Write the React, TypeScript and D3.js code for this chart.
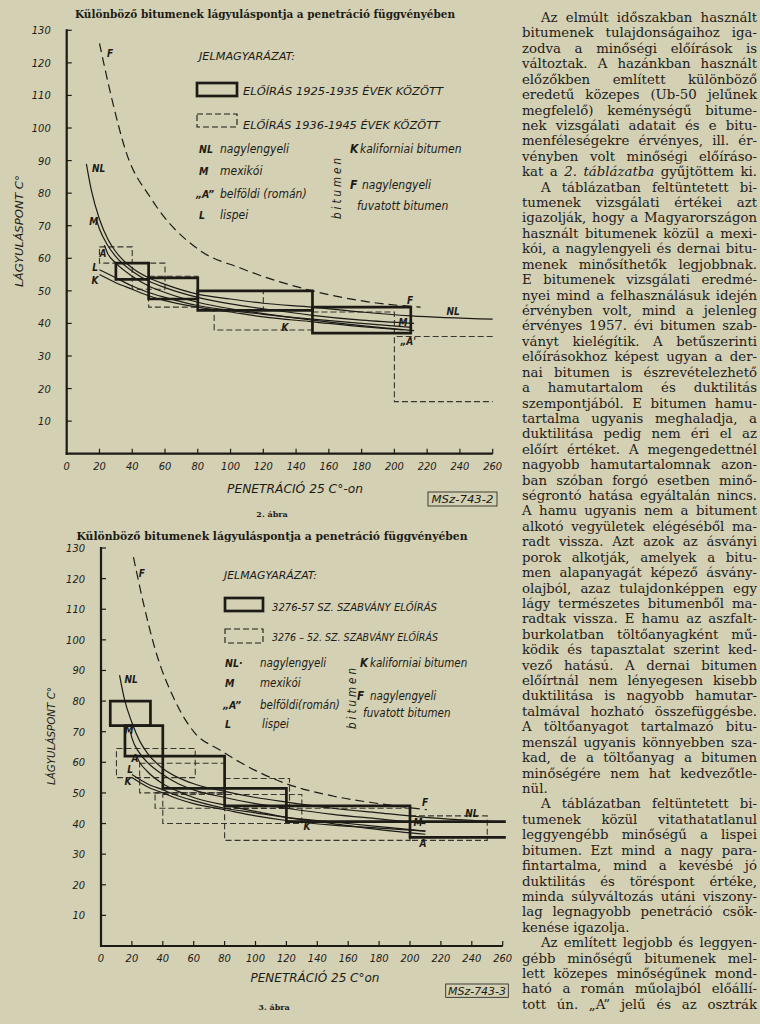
import React, { useMemo } from 'react';
import * as d3 from 'd3';

type P = [number, number];
type Box = [number, number, number, number, boolean?];
type Lab = [string, number, number];

const PEN_TICKS = [0, 20, 40, 60, 80, 100, 120, 140, 160, 180, 200, 220, 240, 260];
const SP_TICKS = [10, 20, 30, 40, 50, 60, 70, 80, 90, 100, 110, 120, 130];

// ---------- 2. ábra ----------
const F2_F: P[] = [[20, 126], [28, 108], [36, 93], [52, 78], [81, 62.5], [106, 57], [150, 50], [183, 46.7], [216, 45]];
const F2_NL: P[] = [[12, 89], [15, 81], [20, 72], [25, 66], [30, 62], [40, 57], [50, 54], [60, 52], [80, 49], [100, 47.5], [120, 46.2], [150, 45], [180, 43.5], [210, 42.3], [260, 41.3]];
const F2_M: P[] = [[18, 72], [20, 69], [25, 64], [30, 60.5], [40, 56], [50, 53], [60, 51], [80, 48], [100, 46], [120, 44.5], [150, 42.5], [180, 41], [212, 40]];
const F2_A: P[] = [[23, 64], [25, 61.5], [30, 58.5], [40, 54.5], [50, 51.5], [60, 49.5], [80, 46.5], [100, 44.5], [120, 43], [150, 41], [180, 39.3], [212, 37.8]];
const F2_L: P[] = [[20, 56.5], [30, 54], [40, 51.5], [50, 49.5], [60, 48], [80, 45.5], [100, 44], [120, 42.8], [150, 41.3], [180, 40], [210, 38.8]];
const F2_K: P[] = [[20, 55], [30, 52.5], [40, 50.5], [50, 48.5], [60, 47], [80, 45], [100, 43.5], [120, 42], [150, 40.5], [180, 39], [205, 38]];
const F2_SOLID_BOXES: Box[] = [[30, 50, 53.5, 58.5], [50, 80, 47.5, 54], [80, 150, 44, 50], [150, 210, 37, 45]];
const F2_DASHED_BOXES: Box[] = [[20, 40, 58.5, 63.5], [40, 60, 50.5, 58.5], [50, 80, 45, 54.5], [80, 120, 44, 50], [90, 150, 38, 44], [150, 200, 37, 43.5], [200, 260, 16, 36, true]];
const F2_LABELS: Lab[] = [['F', 26.4, 123], ['F', 209.5, 47.1], ['NL', 19.5, 87.7], ['NL', 235.8, 43.8], ['M', 16.5, 71.2], ['M', 205.3, 40.4], ['A', 22.2, 61.6], ['„A\'', 208.4, 34.3], ['L', 17.3, 57.3], ['K', 17.3, 53.3], ['K', 133.3, 38.9]];

// ---------- 3. ábra ----------
const F3_F: P[] = [[21, 127], [27, 113], [35, 97], [48, 80], [60, 70], [77, 64], [90, 60], [120, 53], [150, 49], [180, 46.5], [211, 44.5]];
const F3_NL: P[] = [[12, 88.5], [15, 81], [20, 73], [25, 67], [30, 63], [40, 58], [50, 55], [60, 53], [80, 50.5], [100, 48.5], [120, 47], [150, 45], [180, 43.5], [210, 42], [260, 40.5]];
const F3_M: P[] = [[19, 70], [20, 68], [25, 63], [30, 60], [40, 56], [50, 53], [60, 51], [80, 48.5], [100, 46.5], [120, 45], [150, 43], [180, 41.5], [210, 40]];
const F3_A: P[] = [[23, 62], [25, 60], [30, 57], [40, 53], [50, 50.5], [60, 48.5], [80, 46], [100, 44], [120, 42], [150, 40], [180, 38], [210, 36.5]];
const F3_L: P[] = [[20, 56], [30, 53], [40, 51], [50, 49], [60, 47.5], [80, 45], [100, 43.5], [120, 42], [150, 40.5], [180, 39], [210, 37.5]];
const F3_K: P[] = [[20, 55], [30, 52], [40, 50], [50, 48], [60, 46.5], [80, 44.5], [100, 42.5], [120, 41], [150, 39.5], [180, 38.5], [210, 37.5]];
const F3_SOLID_BOXES: Box[] = [[6, 32, 72, 80], [15.5, 40, 62, 72], [40, 80, 51.5, 62], [80, 120, 45.8, 51.5], [120, 200, 40.6, 45.8], [200, 262, 35.5, 40.6, true]];
const F3_DASHED_BOXES: Box[] = [[10, 61, 55, 64.5], [25, 80, 50, 59.7], [35, 80, 45, 50], [40, 130, 40, 49.5], [80, 122, 45, 54.7], [80, 200, 34.5, 45], [200, 250, 34.5, 42.5]];
const F3_LABELS: Lab[] = [['F', 26.5, 121.8], ['F', 209.7, 47], ['NL', 19.5, 86.9], ['NL', 240, 43.4], ['M', 18.1, 70.5], ['M', 205.2, 40.2], ['A', 22, 61.4], ['A', 208.4, 33.6], ['L', 18.8, 57.5], ['K', 17.5, 53.6], ['K', 133.3, 38.9]];

const TITLE = 'Különböző bitumenek lágyuláspontja a penetráció függvényében';

const TEXT_LINES = [
  '\tAz elmúlt időszakban használt',
  'bitumenek tulajdonságaihoz iga-',
  'zodva a minőségi előírások is',
  'változtak. A hazánkban használt',
  'előzőkben említett különböző',
  'eredetű közepes (Ub-50 jelűnek',
  'megfelelő) keménységű bitume-',
  'nek vizsgálati adatait és e bitu-',
  'menféleségekre érvényes, ill. ér-',
  'vényben volt minőségi előíráso-',
  'kat a _2. _táblázatba gyűjtöttem ki.',
  '\tA táblázatban feltüntetett bi-',
  'tumenek vizsgálati értékei azt',
  'igazolják, hogy a Magyarországon',
  'használt bitumenek közül a mexi-',
  'kói, a nagylengyeli és dernai bitu-',
  'menek minősíthetők legjobbnak.',
  'E bitumenek vizsgálati eredmé-',
  'nyei mind a felhasználásuk idején',
  'érvényben volt, mind a jelenleg',
  'érvényes 1957. évi bitumen szab-',
  'ványt kielégítik. A betűszerinti',
  'előírásokhoz képest ugyan a der-',
  'nai bitumen is észrevételezhető',
  'a hamutartalom és duktilitás',
  'szempontjából. E bitumen hamu-',
  'tartalma ugyanis meghaladja, a',
  'duktilitása pedig nem éri el az',
  'előírt értéket. A megengedettnél',
  'nagyobb hamutartalomnak azon-',
  'ban szóban forgó esetben minő-',
  'ségrontó hatása egyáltalán nincs.',
  'A hamu ugyanis nem a bitument',
  'alkotó vegyületek elégéséből ma-',
  'radt vissza. Azt azok az ásványi',
  'porok alkotják, amelyek a bitu-',
  'men alapanyagát képező ásvány-',
  'olajból, azaz tulajdonképpen egy',
  'lágy természetes bitumenből ma-',
  'radtak vissza. E hamu az aszfalt-',
  'burkolatban töltőanyagként mű-',
  'ködik és tapasztalat szerint ked-',
  'vező hatású. A dernai bitumen',
  'előírtnál nem lényegesen kisebb',
  'duktilitása is nagyobb hamutar-',
  'talmával hozható összefüggésbe.',
  'A töltőanyagot tartalmazó bitu-',
  'menszál ugyanis könnyebben sza-',
  'kad, de a töltőanyag a bitumen',
  'minőségére nem hat kedvezőtle-',
  'nül.¶',
  '\tA táblázatban feltüntetett bi-',
  'tumenek közül vitathatatlanul',
  'leggyengébb minőségű a lispei',
  'bitumen. Ezt mind a nagy para-',
  'fintartalma, mind a kevésbé jó',
  'duktilitás és töréspont értéke,',
  'minda súlyváltozás utáni viszony-',
  'lag legnagyobb penetráció csök-',
  'kenése igazolja.¶',
  '\tAz említett legjobb és leggyen-',
  'gébb minőségű bitumenek mel-',
  'lett közepes minőségűnek mond-',
  'ható a román műolajból előállí-',
  'tott ún. „A” jelű és az osztrák',
];

const BG = '#d4d0b4';
const INK = '#1c1b16';
const HAND = "'DejaVu Sans Condensed','Liberation Sans Narrow','DejaVu Sans',sans-serif";
const SERIF = "'DejaVu Serif','Liberation Serif',serif";

type Frame = { x0: number; x1: number; y0: number; y1: number };

function boxPath(x: d3.ScaleLinear<number, number>, y: d3.ScaleLinear<number, number>, b: Box) {
  const [a, c, lo, hi, open] = b;
  if (open) return `M${x(c)},${y(hi)}L${x(a)},${y(hi)}L${x(a)},${y(lo)}L${x(c)},${y(lo)}`;
  return `M${x(a)},${y(hi)}L${x(c)},${y(hi)}L${x(c)},${y(lo)}L${x(a)},${y(lo)}Z`;
}

function Chart(props: {
  f: Frame; F: P[]; curves: P[][]; solid: Box[]; dashed: Box[]; labels: Lab[];
}) {
  const { f } = props;
  const x = d3.scaleLinear().domain([0, 260]).range([f.x0, f.x1]);
  const y = d3.scaleLinear().domain([0, 130]).range([f.y0, f.y1]);
  const line = d3.line<P>().x(d => x(d[0])).y(d => y(d[1])).curve(d3.curveMonotoneX);
  return (
    <g>
      {props.dashed.map((b, i) => (
        <path key={'d' + i} d={boxPath(x, y, b)} fill="none" stroke={INK} strokeWidth={1.1} strokeDasharray="6,3" opacity={0.85} />
      ))}
      {props.curves.map((c, i) => (
        <path key={'c' + i} d={line(c) || ''} fill="none" stroke={INK} strokeWidth={1.2} />
      ))}
      <path d={line(props.F) || ''} fill="none" stroke={INK} strokeWidth={1.2} strokeDasharray="9,5" />
      {props.solid.map((b, i) => (
        <path key={'s' + i} d={boxPath(x, y, b)} fill="none" stroke={INK} strokeWidth={2.7} />
      ))}
      <line x1={x(0)} x2={x(0)} y1={y(0) + 1} y2={y(130) - 1} stroke={INK} strokeWidth={2.2} />
      <line x1={x(0) - 1} x2={x(260)} y1={y(0)} y2={y(0)} stroke={INK} strokeWidth={2.2} />
      {SP_TICKS.map(t => (
        <g key={'y' + t}>
          <line x1={x(0)} x2={x(0) + 5} y1={y(t)} y2={y(t)} stroke={INK} strokeWidth={1.2} />
          <text x={x(0) - 16} y={y(t) + 4} textAnchor="end" fontFamily={HAND} fontStyle="italic" fontSize={11} fill={INK}>{t}</text>
        </g>
      ))}
      {PEN_TICKS.map(t => (
        <g key={'x' + t}>
          {t > 0 && <line x1={x(t)} x2={x(t)} y1={y(0)} y2={y(0) - 5} stroke={INK} strokeWidth={1.2} />}
          <text x={x(t)} y={y(0) + 16} textAnchor="middle" fontFamily={HAND} fontStyle="italic" fontSize={11} fill={INK}>{t}</text>
        </g>
      ))}
      {props.labels.map((l, i) => (
        <text key={'l' + i} x={x(l[1])} y={y(l[2])} textAnchor="middle" dominantBaseline="central" fontFamily={HAND} fontStyle="italic" fontWeight="bold" fontSize={10} fill={INK}>{l[0]}</text>
      ))}
    </g>
  );
}

type LegendCfg = {
  title: [number, number, number];
  r1: [number, number, number, number]; r2: [number, number, number, number];
  t1: [string, number, number, number]; t2: [string, number, number, number];
  rows: [string, number, string, number, number][];
  bit: [number, number];
  right: [string, number, number][];
  fs: number;
};

function HText(p: { x: number; y: number; len?: number; size?: number; children: React.ReactNode; anchor?: string; weight?: string }) {
  return (
    <text x={p.x} y={p.y} dominantBaseline="central" fontFamily={HAND} fontStyle="italic" fontSize={p.size || 11}
      fill={INK} textLength={p.len || undefined} lengthAdjust={p.len ? 'spacingAndGlyphs' : undefined}
      textAnchor={p.anchor || 'start'} fontWeight={p.weight}>{p.children}</text>
  );
}

function Legend({ c }: { c: LegendCfg }) {
  return (
    <g>
      <HText x={c.title[0]} y={c.title[1]} len={c.title[2]}>JELMAGYARÁZAT:</HText>
      <rect x={c.r1[0]} y={c.r1[1]} width={c.r1[2] - c.r1[0]} height={c.r1[3] - c.r1[1]} fill="none" stroke={INK} strokeWidth={2.7} />
      <rect x={c.r2[0]} y={c.r2[1]} width={c.r2[2] - c.r2[0]} height={c.r2[3] - c.r2[1]} fill="none" stroke={INK} strokeWidth={1.1} strokeDasharray="6,3" />
      <HText x={c.t1[1]} y={c.t1[2]} len={c.t1[3]}>{c.t1[0]}</HText>
      <HText x={c.t2[1]} y={c.t2[2]} len={c.t2[3]}>{c.t2[0]}</HText>
      {c.rows.map((r, i) => (
        <g key={i}>
          <HText x={r[1]} y={r[4]} weight="bold" size={10.5}>{r[0]}</HText>
          <HText x={r[3]} y={r[4]} size={c.fs}>{r[2]}</HText>
        </g>
      ))}
      <text transform={`translate(${c.bit[0]},${c.bit[1]}) rotate(-90)`} textAnchor="middle" dominantBaseline="central"
        fontFamily={HAND} fontStyle="italic" fontSize={11.5} letterSpacing={3} fill={INK}>bitumen</text>
      {c.right.map((r, i) => (
        <HText key={'r' + i} x={r[1]} y={r[2]} size={c.fs} weight={r[0].length === 1 ? 'bold' : undefined}>{r[0]}</HText>
      ))}
    </g>
  );
}

const LEG_TOP: LegendCfg = {
  title: [199, 56, 96],
  r1: [197, 83, 237, 96], r2: [197, 114, 237, 127],
  t1: ['ELŐÍRÁS 1925-1935 ÉVEK KÖZÖTT', 243, 91, 200],
  t2: ['ELŐÍRÁS 1936-1945 ÉVEK KÖZÖTT', 243, 125, 197],
  rows: [['NL', 199, 'nagylengyeli', 220, 149], ['M', 199, 'mexikói', 220, 171], ['„A”', 196, 'belföldi (román)', 220, 194], ['L', 199, 'lispei', 220, 215]],
  bit: [337, 187],
  right: [['K', 350, 149], ['kaliforniai bitumen', 360, 149], ['F', 350, 185], ['nagylengyeli', 362, 185], ['fuvatott bitumen', 357, 206]],
  fs: 12,
};
const LEG_BOT: LegendCfg = {
  title: [224, 575, 93],
  r1: [225, 598, 263, 611], r2: [225, 629, 263, 643],
  t1: ['3276-57 SZ. SZABVÁNY ELŐÍRÁS', 272, 607, 165],
  t2: ['3276 – 52. SZ. SZABVÁNY ELŐÍRÁS', 272, 637, 166],
  rows: [['NL·', 225, 'nagylengyeli', 260, 663], ['M', 225, 'mexikói', 260, 683], ['„A”', 223, 'belföldi(román)', 260, 705], ['L', 225, 'lispei', 262, 724]],
  bit: [352, 697],
  right: [['K', 360, 663], ['kaliforniai bitumen', 370, 663], ['F', 357, 696], ['nagylengyeli', 370, 696], ['fuvatott bitumen', 363, 713]],
  fs: 11.5,
};

const COL_X = 522;
const COL_W = 235;
const LINE0 = 22;
const LINE_STEP = 15.42;
const FS = 13.3;

function Column() {
  const items = useMemo(() => {
    const canvas = document.createElement('canvas');
    const ctx = canvas.getContext('2d')!;
    const measure = (s: string, it: boolean) => {
      ctx.font = `${it ? 'italic ' : ''}${FS}px "DejaVu Serif"`;
      return ctx.measureText(s).width;
    };
    const out: { x: number; y: number; t: string; it: boolean; w: number; fit: boolean }[] = [];
    TEXT_LINES.forEach((raw, i) => {
      let s = raw;
      let indent = 0;
      let justify = true;
      if (s.startsWith('\t')) { indent = 19; s = s.slice(1); }
      if (s.endsWith('¶')) { justify = false; s = s.slice(0, -1); }
      const words = s.split(' ').map(w => ({ it: w.startsWith('_'), t: w.replace(/_/g, '') }));
      const widths = words.map(w => measure(w.t, w.it));
      const sp = measure(' ', false);
      const total = widths.reduce((a, b) => a + b, 0);
      const avail = COL_W - indent;
      let gap = sp;
      let scale = 1;
      if (justify && words.length > 1) {
        gap = (avail - total) / (words.length - 1);
        if (gap < sp * 0.7) {
          gap = sp * 0.7;
          scale = (avail - gap * (words.length - 1)) / total;
        }
      }
      let x = COL_X + indent;
      const y = LINE0 + i * LINE_STEP;
      words.forEach((w, j) => {
        const ww = widths[j] * scale;
        out.push({ x, y, t: w.t, it: w.it, w: ww, fit: scale !== 1 });
        x += ww + gap;
      });
    });
    return out;
  }, []);
  return (
    <g>
      {items.map((d, i) => (
        <text key={i} x={d.x} y={d.y} fontFamily={SERIF} fontSize={FS} fontStyle={d.it ? 'italic' : 'normal'} fill="#222018"
          textLength={d.fit ? d.w : undefined} lengthAdjust={d.fit ? 'spacingAndGlyphs' : undefined}>{d.t}</text>
      ))}
    </g>
  );
}

const TOPF: Frame = { x0: 66.7, x1: 492.7, y0: 453.7, y1: 30.3 };
const BOTF: Frame = { x0: 101, x1: 502.7, y0: 946, y1: 548 };

export default function App() {
  return (
    <svg width={760} height={1024} viewBox="0 0 760 1024" style={{ position: 'absolute', left: 0, top: 0, display: 'block' }}>
      <rect x={0} y={0} width={760} height={1024} fill={BG} />
      <text x={265} y={18} textAnchor="middle" fontFamily={SERIF} fontWeight="bold" fontSize={10.5} fill={INK} textLength={380} lengthAdjust="spacingAndGlyphs">{TITLE}</text>
      <Chart f={TOPF} F={F2_F} curves={[F2_NL, F2_M, F2_A, F2_L, F2_K]} solid={F2_SOLID_BOXES} dashed={F2_DASHED_BOXES} labels={F2_LABELS} />
      <Legend c={LEG_TOP} />
      <text transform="translate(19,231) rotate(-90)" textAnchor="middle" dominantBaseline="central" fontFamily={HAND} fontStyle="italic" fontSize={11} fill={INK} textLength={112} lengthAdjust="spacingAndGlyphs">LÁGYULÁSPONT C°</text>
      <text x={295} y={489} textAnchor="middle" dominantBaseline="central" fontFamily={HAND} fontStyle="italic" fontSize={12} fill={INK} textLength={136} lengthAdjust="spacingAndGlyphs">PENETRÁCIÓ  25 C°-on</text>
      <rect x={428} y={492} width={69} height={14} fill="none" stroke={INK} strokeWidth={0.8} />
      <text x={462.5} y={499.5} textAnchor="middle" dominantBaseline="central" fontFamily={HAND} fontStyle="italic" fontSize={11} fill={INK} textLength={62} lengthAdjust="spacingAndGlyphs">MSz-743-2</text>
      <text x={272} y={517} textAnchor="middle" fontFamily={SERIF} fontWeight="bold" fontSize={8} fill={INK}>2. ábra</text>

      <text x={272} y={540} textAnchor="middle" fontFamily={SERIF} fontWeight="bold" fontSize={10.5} fill={INK} textLength={391} lengthAdjust="spacingAndGlyphs">{TITLE}</text>
      <Chart f={BOTF} F={F3_F} curves={[F3_NL, F3_M, F3_A, F3_L, F3_K]} solid={F3_SOLID_BOXES} dashed={F3_DASHED_BOXES} labels={F3_LABELS} />
      <Legend c={LEG_BOT} />
      <text transform="translate(51,736) rotate(-90)" textAnchor="middle" dominantBaseline="central" fontFamily={HAND} fontStyle="italic" fontSize={11} fill={INK} textLength={98} lengthAdjust="spacingAndGlyphs">LÁGYULÁSPONT C°</text>
      <text x={315} y={978} textAnchor="middle" dominantBaseline="central" fontFamily={HAND} fontStyle="italic" fontSize={12} fill={INK} textLength={129} lengthAdjust="spacingAndGlyphs">PENETRÁCIÓ  25 C°on</text>
      <rect x={445.7} y={984} width={62.6} height={13.3} fill="none" stroke={INK} strokeWidth={0.8} />
      <text x={477} y={991} textAnchor="middle" dominantBaseline="central" fontFamily={HAND} fontStyle="italic" fontSize={11} fill={INK} textLength={58} lengthAdjust="spacingAndGlyphs">MSz-743-3</text>
      <text x={274} y={1010} textAnchor="middle" fontFamily={SERIF} fontWeight="bold" fontSize={8} fill={INK}>3. ábra</text>

      <Column />
    </svg>
  );
}
